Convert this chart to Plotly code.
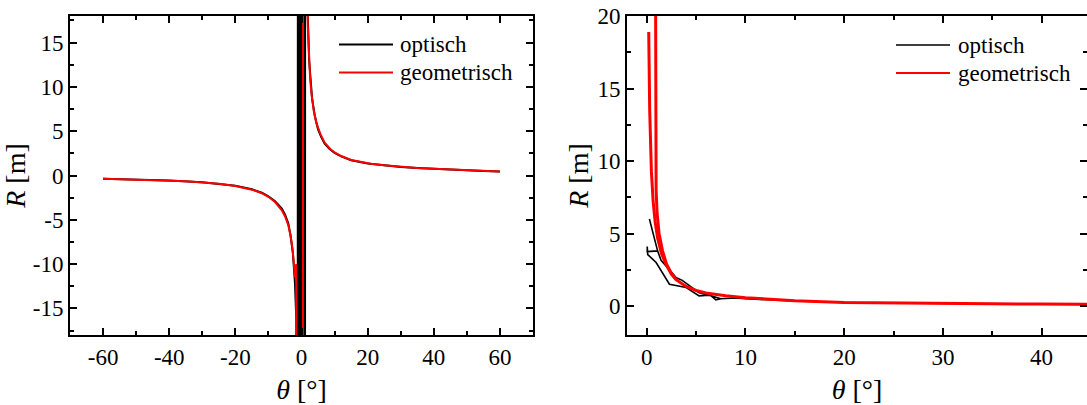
import plotly.graph_objects as go

# ---------------- data: left panel ----------------
left_geo_theta = [-60, -55, -50, -45, -40, -35, -30, -25, -20, -17, -15, -12, -10, -8, -7, -6, -5, -4,
                  -3.3, -2.7, -2.3, -2.0, -1.8, -1.6, -1.5,
                  0.3, 0.6,
                  1.3, 1.6, 1.9, 2.3, 2.6, 3.0, 3.7, 4.5, 5.7, 7, 8.7, 10, 12, 15, 18, 21, 25, 30, 35,
                  40, 45, 50, 55, 60]
left_geo_R = [-0.38, -0.42, -0.47, -0.52, -0.58, -0.66, -0.78, -0.93, -1.18, -1.4, -1.6, -2.0, -2.4, -3.0,
              -3.4, -3.9, -4.6, -5.6, -6.8, -8.3, -9.9, -11.5, -11.0, -10.0, -40,
              -300, 300,
              60, 25, 17, 12.5, 11.0, 9.3, 7.3, 5.9, 4.7, 3.7, 3.0, 2.6, 2.2, 1.75, 1.5, 1.32, 1.15, 0.98,
              0.85, 0.75, 0.68, 0.6, 0.53, 0.46]

left_opt_theta = [-60, -50, -40, -30, -20, -15, -12, -10, -8, -6, -5, -4, -3.3, -2.6, -2.0, -1.6, -1.4,
                  -1.2, -0.9, -0.7, -0.5, -0.2, 0.1, 0.4, 0.7, 1.0, 1.2,
                  1.4, 1.6, 1.9, 2.3, 2.7, 3.2, 4, 5, 6, 7, 8.5, 10, 12, 15, 20, 25, 30, 35, 40, 45, 50,
                  55, 60]
left_opt_R = [-0.37, -0.46, -0.57, -0.77, -1.15, -1.55, -1.95, -2.35, -2.9, -3.7, -4.4, -5.4, -6.8, -8.8,
              -12, -16, -30,
              -150, 400, -400, 300, -300, 500, -500, 400, -200, 300,
              50, 28, 18, 13, 10.5, 8.7, 6.8, 5.2, 4.3, 3.6, 3.0, 2.55, 2.15, 1.72, 1.35, 1.13, 0.97,
              0.85, 0.74, 0.67, 0.58, 0.52, 0.45]

# ---------------- data: right panel ----------------
right_geo_theta = [0.2, 0.3, 0.47, 0.65, 0.85, 1.1, 1.5, 2.0, 2.5, 3.0, 4, 5, 6, 8, 10, 12, 15, 20,
                   25, 30, 35, 40, 45,
                   None,
                   0.82, 0.85, 0.87, 0.9, 0.95, 1.05, 1.25, 1.6, 2.0, 2.5, 3.0]
right_geo_R = [18.9, 13.5, 9.3, 7.2, 5.8, 4.7, 3.6, 2.8, 2.2, 1.8, 1.35, 1.07, 0.9, 0.7, 0.57, 0.47,
               0.37, 0.25, 0.2, 0.17, 0.15, 0.13, 0.12,
               None,
               40, 24, 15, 10, 8, 6.4, 5.0, 3.8, 2.9, 2.25, 1.8]

right_opt_theta = [0.27, 1.1, 0.05, 0.05, 0.1, 0.95, 2.3, 4.0, 5.3, 6.3, 7.5, 7.0, 6.5, 5.3, 3.6, 3.0,
                   1.45, 1.1,
                   None,
                   7.5, 9, 10, 12, 15, 20, 25, 30, 35, 40, 45]
right_opt_R = [6.0, 3.8, 3.75, 4.1, 3.55, 3.0, 1.5, 1.27, 0.7, 0.75, 0.5, 0.42, 0.72, 0.92, 1.77, 1.95,
               3.15, 3.8,
               None,
               0.5, 0.55, 0.5, 0.43, 0.34, 0.24, 0.19, 0.16, 0.14, 0.12, 0.11]

legend_labels = ["optisch", "geometrisch"]
series_colors = ["#000000", "#ff0000"]

# tick labels (hyphen-minus as in the reference)
left_x_ticks = [-60, -40, -20, 0, 20, 40, 60]
left_x_labels = ["-60", "-40", "-20", "0", "20", "40", "60"]
left_y_ticks = [-15, -10, -5, 0, 5, 10, 15]
left_y_labels = ["-15", "-10", "-5", "0", "5", "10", "15"]
right_x_ticks = [0, 10, 20, 30, 40]
right_x_labels = ["0", "10", "20", "30", "40"]
right_y_ticks = [0, 5, 10, 15, 20]
right_y_labels = ["0", "5", "10", "15", "20"]

# ---------------- figure ----------------
W, H = 1087, 405
FONT = "Liberation Serif"

fig = go.Figure()
fig.add_trace(go.Scatter(x=left_opt_theta, y=left_opt_R, mode="lines", name=legend_labels[0],
                         line=dict(color=series_colors[0], width=2), xaxis="x", yaxis="y",
                         showlegend=False))
fig.add_trace(go.Scatter(x=left_geo_theta, y=left_geo_R, mode="lines", name=legend_labels[1],
                         line=dict(color=series_colors[1], width=2), xaxis="x", yaxis="y",
                         showlegend=False))
fig.add_trace(go.Scatter(x=right_opt_theta, y=right_opt_R, mode="lines", name=legend_labels[0],
                         line=dict(color=series_colors[0], width=1.6), xaxis="x2", yaxis="y2",
                         showlegend=False, connectgaps=False))
fig.add_trace(go.Scatter(x=right_geo_theta, y=right_geo_R, mode="lines", name=legend_labels[1],
                         line=dict(color=series_colors[1], width=3), xaxis="x2", yaxis="y2",
                         showlegend=False, connectgaps=False))


def px_x(p):
    return p / W


def px_y(p):
    return 1 - p / H


tickfont = dict(family=FONT, size=23, color="black")
titlefont = dict(family=FONT, size=28, color="black")

common = dict(showline=True, linecolor="black", linewidth=2, mirror="allticks", ticks="inside",
              ticklen=7, tickwidth=1.5, tickcolor="black", showgrid=False, zeroline=False,
              tickfont=tickfont, tickmode="array", automargin=False)

yd = [px_y(335), px_y(16)]

fig.update_layout(
    width=W, height=H,
    margin=dict(l=0, r=0, t=0, b=0),
    paper_bgcolor="white", plot_bgcolor="white",
    showlegend=False,
    font=dict(family=FONT, color="black"),
    xaxis=dict(domain=[px_x(70), px_x(533)], range=[-70, 70],
               tickvals=left_x_ticks, ticktext=left_x_labels,
               minor=dict(ticks="inside", dtick=10, tick0=0, ticklen=4, tickcolor="black", tickwidth=1.5),
               title=dict(text="<i>θ</i> [°]", font=titlefont, standoff=11), anchor="y", **common),
    yaxis=dict(domain=yd, range=[-18, 18],
               tickvals=left_y_ticks, ticktext=left_y_labels,
               minor=dict(ticks="inside", dtick=2.5, tick0=0, ticklen=4, tickcolor="black", tickwidth=1.5),
               title=dict(text="<i>R</i> [m]", font=titlefont, standoff=1), anchor="x", **common),
    xaxis2=dict(domain=[px_x(627), 1.0], range=[-2, 44.6],
                tickvals=right_x_ticks, ticktext=right_x_labels,
                minor=dict(ticks="inside", dtick=5, tick0=0, ticklen=4, tickcolor="black", tickwidth=1.5),
                title=dict(text="<i>θ</i> [°]", font=titlefont, standoff=11), anchor="y2", **common),
    yaxis2=dict(domain=yd, range=[-2, 20],
                tickvals=right_y_ticks, ticktext=right_y_labels,
                minor=dict(ticks="inside", dtick=2.5, tick0=0, ticklen=4, tickcolor="black", tickwidth=1.5),
                title=dict(text="<i>R</i> [m]", font=titlefont, standoff=1), anchor="x2", **common),
)

# legend drawn in paper coordinates (line samples + labels)
legend_specs = [
    (339, 393, 398, [44.5, 72.5], [2, 2]),
    (896, 950, 956, [45, 73], [1.6, 2]),
]
for x0, x1, xt, ys, widths in legend_specs:
    for label, color, yy, wd in zip(legend_labels, series_colors, ys, widths):
        fig.add_shape(type="line", xref="paper", yref="paper", x0=px_x(x0), x1=px_x(x1),
                      y0=px_y(yy), y1=px_y(yy), line=dict(color=color, width=wd))
        fig.add_annotation(xref="paper", yref="paper", x=px_x(xt), y=px_y(yy), text=label,
                           showarrow=False, xanchor="left", yanchor="middle",
                           font=dict(family=FONT, size=23, color="black"))

post = ("document.body.style.margin='0';document.body.style.padding='0';"
        "var d=document.getElementsByClassName('plotly-graph-div')[0];"
        "d.style.position='absolute';d.style.left='0px';d.style.top='0px';")
fig.write_html("out.html", post_script=post, config={"displayModeBar": False})
